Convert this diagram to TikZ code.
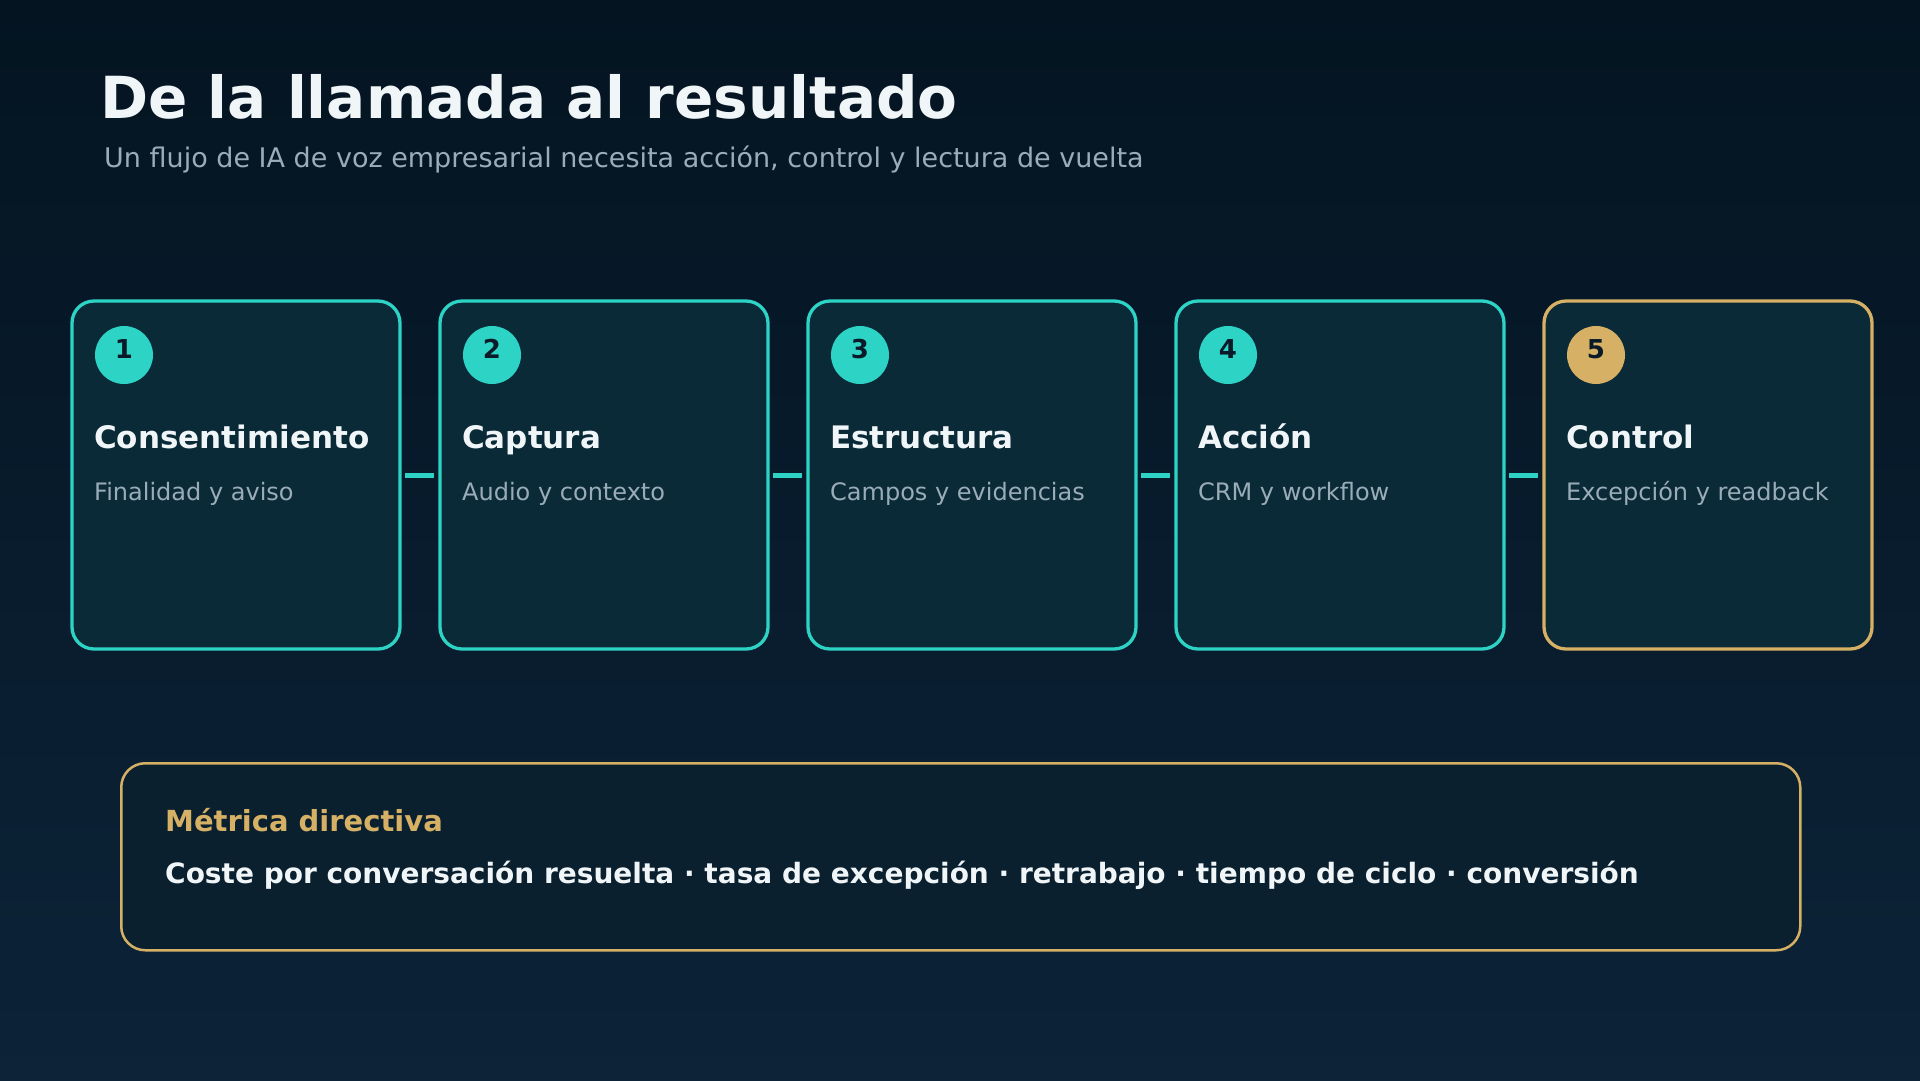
\documentclass[tikz,border=0pt]{standalone}
\usepackage{fontspec}
\setmainfont{DejaVu Sans}
\definecolor{bgtop}{HTML}{041421}
\definecolor{bgbot}{HTML}{0C2338}
\definecolor{cardfill}{HTML}{0B2A38}
\definecolor{teal}{HTML}{2DD4C5}
\definecolor{gold}{HTML}{D6B064}
\definecolor{boxfill}{HTML}{0A202F}
\definecolor{txtwhite}{HTML}{F0F5F8}
\definecolor{txtgray}{HTML}{9AACB8}
\definecolor{numdark}{HTML}{0A1A28}
\tikzset{
  card/.style={draw=teal, fill=cardfill, line width=3.3pt, rounded corners=22pt,
    minimum width=328pt, minimum height=348pt, inner sep=0pt, outer sep=0pt, anchor=north west},
  goldcard/.style={card, draw=gold},
  badge/.style={circle, fill=teal, minimum size=58pt, inner sep=0pt},
  goldbadge/.style={badge, fill=gold},
  numtxt/.style={anchor=base, inner sep=0pt, text=numdark, font=\fontsize{26}{28}\selectfont\bfseries},
  cardtitle/.style={anchor=base west, inner sep=0pt, text=txtwhite, font=\fontsize{31}{34}\selectfont\bfseries},
  cardsub/.style={anchor=base west, inner sep=0pt, text=txtgray, font=\fontsize{24}{26}\selectfont},
  link/.style={draw=teal, line width=5pt, shorten >=6pt, shorten <=5pt},
}
\begin{document}
\begin{tikzpicture}[x=1pt,y=-1pt]
\useasboundingbox (0,0) rectangle (1920,1080);
\shade[top color=bgtop, bottom color=bgbot] (0,0) rectangle (1920,1080);
% title
\node[anchor=base west, inner sep=0pt, text=txtwhite, font=\fontsize{58}{62}\selectfont\bfseries] (title) at (100,118) {De la llamada al resultado};
\node[anchor=base west, inner sep=0pt, text=txtgray, font=\fontsize{27}{30}\selectfont] (subtitle) at (104,167) {Un flujo de IA de voz empresarial necesita acción, control y lectura de vuelta};
% cards
\foreach \i/\nm/\ttl/\sub/\sty/\bsty in {
  1/c1/Consentimiento/Finalidad y aviso/card/badge,
  2/c2/Captura/Audio y contexto/card/badge,
  3/c3/Estructura/Campos y evidencias/card/badge,
  4/c4/Acción/CRM y workflow/card/badge,
  5/c5/Control/Excepción y readback/goldcard/goldbadge}{
  \pgfmathsetmacro{\cx}{72+368*(\i-1)}
  \node[\sty] (\nm) at (\cx,301) {};
  \node[\bsty] (\nm b) at (\cx+52,355) {};
  \node[numtxt] (\nm n) at (\cx+52,358) {\i};
  \node[cardtitle] (\nm t) at (\cx+22,448) {\ttl};
  \node[cardsub] (\nm s) at (\cx+22,500) {\sub};
}
\draw[link] (c1.east) -- (c2.west);
\draw[link] (c2.east) -- (c3.west);
\draw[link] (c3.east) -- (c4.west);
\draw[link] (c4.east) -- (c5.west);
% metric box
\node[draw=gold, fill=boxfill, line width=2.5pt, rounded corners=24pt, minimum width=1679pt, minimum height=187pt, inner sep=0pt, anchor=north west] (metric) at (120,762) {};
\node[anchor=base west, inner sep=0pt, text=gold, font=\fontsize{29}{32}\selectfont\bfseries] (mtitle) at (165,831) {Métrica directiva};
\node[anchor=base west, inner sep=0pt, text=txtwhite, font=\fontsize{28}{32}\selectfont\bfseries] (mtext) at (165,883) {Coste por conversación resuelta · tasa de excepción · retrabajo · tiempo de ciclo · conversión};
\end{tikzpicture}
\end{document}
